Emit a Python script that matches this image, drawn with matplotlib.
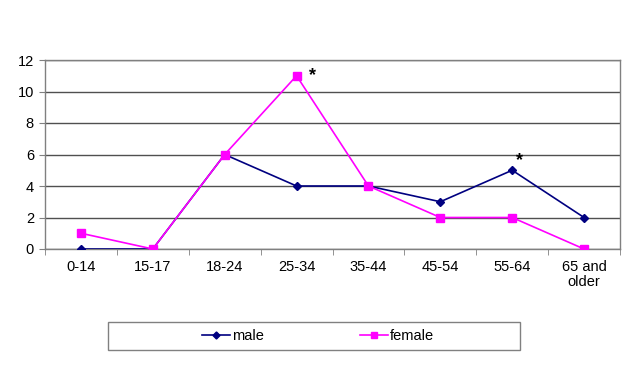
import matplotlib
matplotlib.use("Agg")
import matplotlib.pyplot as plt
from matplotlib.patches import Rectangle

categories = ["0-14", "15-17", "18-24", "25-34", "35-44", "45-54", "55-64", "65 and\nolder"]
male = [0, 0, 6, 4, 4, 3, 5, 2]
female = [1, 0, 6, 11, 4, 2, 2, 0]
yticks = [0, 2, 4, 6, 8, 10, 12]
star_points = [("female", 3, (9, -6)), ("male", 6, (3, 1))]

plt.rcParams['font.family'] = ['Liberation Sans', 'DejaVu Sans']
W, H = 629, 387
FS = 10.5
fig = plt.figure(figsize=(W/100, H/100), dpi=100)
ax = fig.add_axes([45/W, 1-249/H, (620-45)/W, (249-60)/H])

x = list(range(len(categories)))
ax.plot(x, male, color="#000080", marker="D", markersize=4.2, linewidth=1.2, label="male", zorder=3)
ax.plot(x, female, color="#FF00FF", marker="s", markersize=5.6, linewidth=1.2, label="female", zorder=4)

series = {"male": male, "female": female}
for name, idx, off in star_points:
    ax.annotate("*", (idx, series[name][idx]), xytext=off, textcoords="offset points",
                fontsize=13, fontweight="bold", ha="left", va="bottom")

ax.set_xlim(-0.5, len(categories)-0.5)
ax.set_ylim(0, 12)
ax.set_yticks(yticks)
ax.set_yticklabels([str(v) for v in yticks], fontsize=FS)
ax.set_xticks(x)
ax.set_xticklabels(categories, fontsize=FS, linespacing=1.05)
ax.tick_params(axis="x", which="major", length=0, pad=8)
ax.set_xticks([i+0.5 for i in range(-1, len(categories))], minor=True)
ax.tick_params(axis="x", which="minor", length=4, color="#808080", direction="out")
ax.tick_params(axis="y", length=4, color="#808080", direction="out", pad=4)
ax.grid(axis="y", color="#505050", linewidth=1.0)
ax.set_axisbelow(True)
for s in ax.spines.values():
    s.set_color("#808080")
    s.set_linewidth(1.0)

# legend
fig.patches.append(Rectangle((108/W, 1-350/H), 412/W, 28/H, transform=fig.transFigure,
                             fill=False, edgecolor="#808080", linewidth=1.0))
fig.legend(loc="center", bbox_to_anchor=(318/W, 1-336/H), ncol=2, frameon=False,
           fontsize=FS, handlelength=1.9, columnspacing=6.6, handletextpad=0.15,
           markerscale=0.85)

fig.savefig("out.png", dpi=100)
